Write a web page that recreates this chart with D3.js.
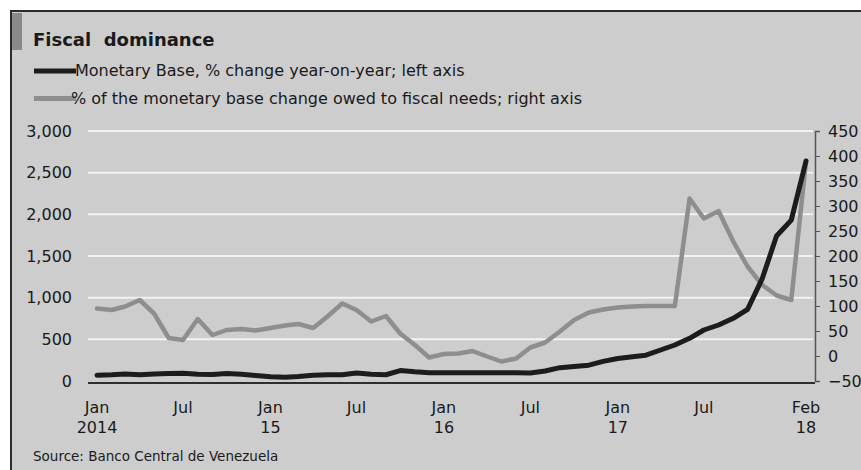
<!DOCTYPE html>
<html>
<head>
<meta charset="utf-8">
<script src="https://cdn.jsdelivr.net/npm/d3@7"></script>
<style>
  html, body { margin: 0; padding: 0; background: #ffffff; }
  svg text { font-family: "DejaVu Sans", sans-serif; fill: #1a1a1a; }
</style>
</head>
<body>
<svg id="chart" width="861" height="470"></svg>
<script>
// ---- Data (monthly, Jan 2014 .. Feb 2018) ----
const startMonth = "2014-01";
const endMonth = "2018-02";
const monetaryBase = [70, 75, 85, 75, 85, 90, 92, 80, 78, 90, 80, 65,
                      50, 45, 55, 70, 75, 75, 95, 80, 75, 125, 110, 100,
                      100, 100, 100, 100, 100, 100, 95, 120, 160, 175, 190, 235,
                      270, 290, 310, 372, 432, 512, 612, 672, 752, 860, 1230, 1740,
                      1930, 2640];
const fiscalShare = [95, 92, 99, 112, 85, 36, 32, 74, 42, 52, 54, 51,
                     56, 61, 64, 56, 79, 105, 92, 69, 80, 45, 22, -3,
                     4, 5, 10, -1, -11, -5, 17, 27, 49, 72, 87, 93,
                     97, 99, 100, 100, 100, 315, 275, 290, 229, 179, 142, 121,
                     112, 390];
const leftTicks = [0, 500, 1000, 1500, 2000, 2500, 3000];
const rightTicks = [-50, 0, 50, 100, 150, 200, 250, 300, 350, 400, 450];
const xTickDates = ["2014-01", "2014-07", "2015-01", "2015-07", "2016-01", "2016-07", "2017-01", "2017-07", "2018-02"];
const xTickLine1 = ["Jan", "Jul", "Jan", "Jul", "Jan", "Jul", "Jan", "Jul", "Feb"];
const xTickLine2 = ["2014", "", "15", "", "16", "", "17", "", "18"];
const titleText = "Fiscal  dominance";
const legendLabels = ["Monetary Base, % change year-on-year; left axis",
                      "% of the monetary base change owed to fiscal needs; right axis"];
const sourceText = "Source: Banco Central de Venezuela";

const parseM = d3.timeParse("%Y-%m");
const dates = d3.timeMonths(parseM(startMonth), d3.timeMonth.offset(parseM(endMonth), 1));

const svg = d3.select("#chart");
const W = 861, H = 470;

// background panel & frame
svg.append("rect").attr("x", 10).attr("y", 10).attr("width", W - 10).attr("height", H - 10).attr("fill", "#cdcdcd");
svg.append("line").attr("x1", 10).attr("x2", W).attr("y1", 11).attr("y2", 11).attr("stroke", "#2b2b2b").attr("stroke-width", 2);
svg.append("line").attr("x1", 11).attr("x2", 11).attr("y1", 10).attr("y2", H).attr("stroke", "#2b2b2b").attr("stroke-width", 2);
svg.append("rect").attr("x", 12).attr("y", 13).attr("width", 10).attr("height", 37).attr("fill", "#8a8a8a");

// title
svg.append("text").attr("x", 33).attr("y", 46).attr("font-size", 18).attr("font-weight", "bold").style("white-space", "pre").text(titleText);

// legend
const legendColors = ["#1c1c1c", "#8e8e8e"];
const legendY = [71, 98.5];
legendLabels.forEach((lab, i) => {
  svg.append("line").attr("x1", 34).attr("x2", 76).attr("y1", legendY[i]).attr("y2", legendY[i])
    .attr("stroke", legendColors[i]).attr("stroke-width", 5);
  svg.append("text").attr("x", i === 0 ? 75 : 71).attr("y", legendY[i] + 5).attr("font-size", 16).text(lab);
});

// scales
const plotL = 88, plotR = 815, plotT = 131, plotB = 381;
const x = d3.scaleTime().domain([dates[0], dates[dates.length - 1]]).range([97, 806]);
const yL = d3.scaleLinear().domain([0, 3000]).range([plotB, plotT]);
const yR = d3.scaleLinear().domain([-50, 450]).range([plotB, plotT]);

// gridlines
svg.append("g").selectAll("line").data(leftTicks.filter(t => t > 0)).join("line")
  .attr("x1", plotL).attr("x2", plotR - 2)
  .attr("y1", d => yL(d)).attr("y2", d => yL(d))
  .attr("stroke", "#f2f2f2").attr("stroke-width", 2);

// left axis labels
const gL = svg.append("g").attr("transform", `translate(${plotL},0)`)
  .call(d3.axisLeft(yL).tickValues(leftTicks).tickSize(0).tickPadding(16).tickFormat(d3.format(",")));
gL.select(".domain").remove();
gL.attr("font-family", null).attr("font-size", null);
gL.selectAll("text").attr("font-size", 16).attr("fill", "#1a1a1a");

// right axis
const gR = svg.append("g").attr("transform", `translate(${plotR},0)`)
  .call(d3.axisRight(yR).tickValues(rightTicks).tickSize(5).tickPadding(8).tickFormat(d3.format("d")));
gR.select(".domain").attr("stroke", "#555").attr("stroke-width", 1.5);
gR.selectAll(".tick line").attr("stroke", "#555");
gR.attr("font-family", null).attr("font-size", null);
gR.selectAll("text").attr("font-size", 16).attr("fill", "#1a1a1a");

// lines
const lineL = d3.line().x((d, i) => x(dates[i])).y(d => yL(d)).curve(d3.curveLinear);
const lineR = d3.line().x((d, i) => x(dates[i])).y(d => yR(d)).curve(d3.curveLinear);
svg.append("path").datum(fiscalShare).attr("d", lineR).attr("fill", "none")
  .attr("stroke", "#8e8e8e").attr("stroke-width", 4.5).attr("stroke-linejoin", "round").attr("stroke-linecap", "round");
svg.append("path").datum(monetaryBase).attr("d", lineL).attr("fill", "none")
  .attr("stroke", "#1c1c1c").attr("stroke-width", 5).attr("stroke-linejoin", "round").attr("stroke-linecap", "round");

// x axis baseline
svg.append("line").attr("x1", plotL).attr("x2", plotR).attr("y1", 383).attr("y2", 383)
  .attr("stroke", "#2e2e2e").attr("stroke-width", 2);

// x tick labels
const gX = svg.append("g");
xTickDates.forEach((ds, i) => {
  const xp = x(parseM(ds));
  gX.append("text").attr("x", xp).attr("y", 413).attr("text-anchor", "middle").attr("font-size", 16).text(xTickLine1[i]);
  if (xTickLine2[i]) gX.append("text").attr("x", xp).attr("y", 433).attr("text-anchor", "middle").attr("font-size", 16).text(xTickLine2[i]);
});

// source
svg.append("text").attr("x", 33).attr("y", 461).attr("font-size", 13.5).text(sourceText);
</script>
</body>
</html>
